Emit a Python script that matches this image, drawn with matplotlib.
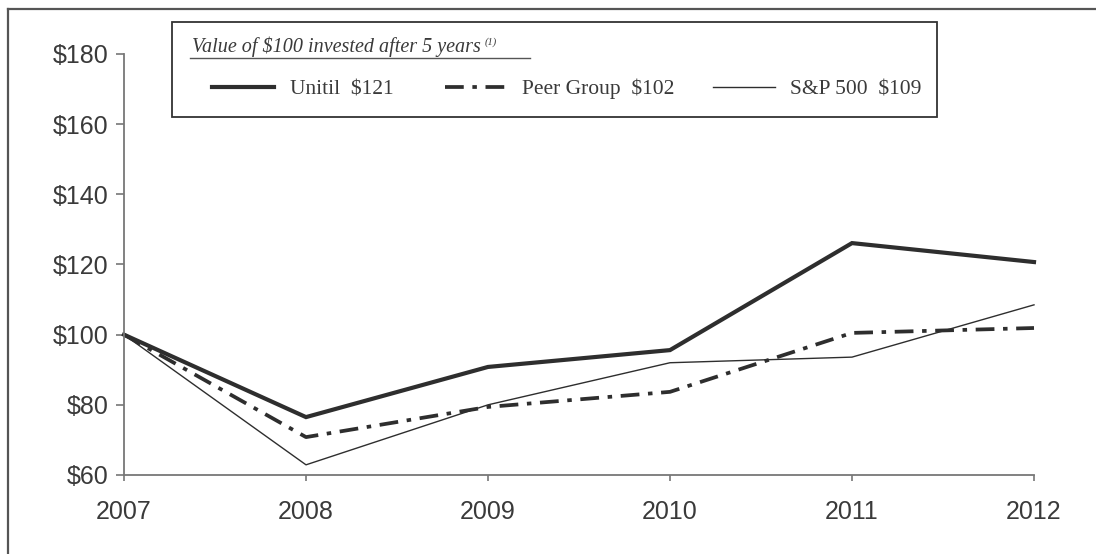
import matplotlib
matplotlib.use("Agg")
import matplotlib.pyplot as plt
from matplotlib.lines import Line2D
from matplotlib.patches import Rectangle

years = [2007, 2008, 2009, 2010, 2011, 2012]
unitil = [100, 76.5, 90.8, 95.6, 126.1, 120.7]
peer = [100, 70.8, 79.4, 83.7, 100.5, 101.9]
sp500 = [100, 62.9, 80.0, 92.0, 93.6, 108.5]
yticks = [60, 80, 100, 120, 140, 160, 180]
ytick_labels = ["$60", "$80", "$100", "$120", "$140", "$160", "$180"]
series_labels = ["Unitil  $121", "Peer Group  $102", "S&P 500  $109"]
title_text = "Value of $100 invested after 5 years"

W, H = 1096, 554
fig = plt.figure(figsize=(W / 100, H / 100), dpi=100)
ax = fig.add_axes([124 / W, 1 - 475 / H, (1034 - 124) / W, (475 - 54) / H])

line_col = "#2e2e2e"
spine_col = "#777777"
text_col = "#3a3a3a"

l1, = ax.plot(years, unitil, color=line_col, lw=3.0, solid_joinstyle="miter")
l2, = ax.plot(years, peer, color=line_col, lw=2.7,
              dashes=(5.0, 2.3, 1.2, 2.3), dash_capstyle="butt")
l3, = ax.plot(years, sp500, color=line_col, lw=1.0)

ax.set_xlim(2007, 2012)
ax.set_ylim(60, 180)
ax.set_xticks(years)
ax.set_xticklabels([str(y) for y in years])
ax.set_yticks(yticks)
ax.set_yticklabels(ytick_labels)

for s in ["top", "right"]:
    ax.spines[s].set_visible(False)
for s in ["left", "bottom"]:
    ax.spines[s].set_color(spine_col)
    ax.spines[s].set_linewidth(1.3)

font_sans = "Liberation Sans"
ax.tick_params(axis="y", direction="out", length=6, width=1.2, color=spine_col,
               pad=5, labelsize=18, labelcolor=text_col)
ax.tick_params(axis="x", direction="out", length=4, width=1.2, color=spine_col,
               pad=14, labelsize=18, labelcolor=text_col)
for lab in ax.get_xticklabels() + ax.get_yticklabels():
    lab.set_fontfamily(font_sans)
for ln in (l1, l2, l3):
    ln.set_clip_on(False)

# outer frame (top and left)
fig.add_artist(Line2D([8 / W, 1], [1 - 9 / H, 1 - 9 / H], transform=fig.transFigure,
                      color="#555555", lw=1.6))
fig.add_artist(Line2D([8 / W, 8 / W], [0, 1 - 9 / H], transform=fig.transFigure,
                      color="#555555", lw=1.6))

# legend box
bx0, by0, bx1, by1 = 172, 22, 937, 117
fig.add_artist(Rectangle((bx0 / W, 1 - by1 / H), (bx1 - bx0) / W, (by1 - by0) / H,
                         transform=fig.transFigure, fill=True, facecolor="white",
                         edgecolor="#333333", lw=1.3, zorder=5))

serif = "Liberation Serif"
title = fig.text(192 / W, 1 - 52 / H, title_text, transform=fig.transFigure,
                 fontfamily=serif, fontstyle="italic", fontsize=14.5, color=text_col,
                 va="baseline", ha="left", zorder=6)
sup = fig.text(0, 0, "(1)", fontfamily=serif, fontstyle="italic",
               fontsize=7.5, color=text_col, va="top", ha="left", zorder=6)
fig.canvas.draw()
bb = title.get_window_extent()
sup.set_position(((bb.x1 + 4) / W, (bb.y1 - 1) / H))
fig.add_artist(Line2D([190 / W, 530 / W], [1 - 58 / H, 1 - 58 / H],
                      transform=fig.transFigure, color="#555555", lw=1.0, zorder=6))

entries = [(l1, series_labels[0], 212), (l2, series_labels[1], 445), (l3, series_labels[2], 713)]
for handle, lab, x in entries:
    leg = fig.legend([handle], [lab], loc="center left",
                     bbox_to_anchor=(x / W, 1 - 89 / H), frameon=False,
                     borderpad=0, borderaxespad=0, handlelength=2.9,
                     handletextpad=0.7,
                     prop={"family": serif, "size": 15.5})
    leg.set_zorder(7)
    for txt in leg.get_texts():
        txt.set_color(text_col)

fig.savefig("out.png", dpi=100, facecolor="white")
